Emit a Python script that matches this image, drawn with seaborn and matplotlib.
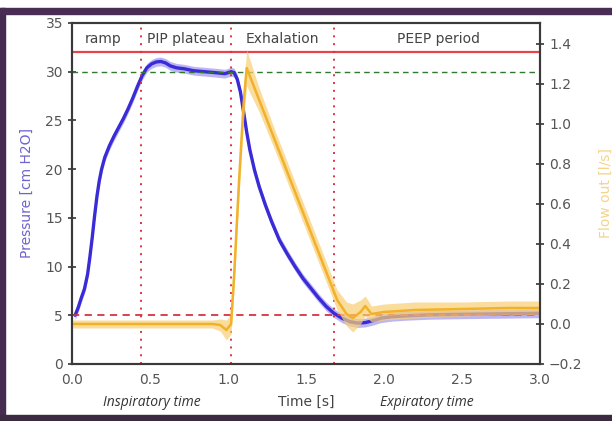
import numpy as np
import seaborn as sns
import matplotlib.pyplot as plt
from matplotlib.patches import Rectangle

# pressure trace [cm H2O]
t_pressure = [0.02, 0.04, 0.06, 0.08, 0.10, 0.115, 0.13, 0.145, 0.16, 0.175, 0.19, 0.21, 0.24, 0.27,
              0.30, 0.33, 0.36, 0.39, 0.42, 0.45, 0.48, 0.51, 0.54, 0.57, 0.60, 0.63, 0.67, 0.72,
              0.78, 0.85, 0.92, 0.98, 1.00, 1.02, 1.04, 1.06, 1.08, 1.10, 1.12, 1.14, 1.17, 1.20,
              1.24, 1.28, 1.33, 1.38, 1.43, 1.48, 1.53, 1.58, 1.63, 1.68, 1.73, 1.78, 1.83, 1.88,
              1.93, 1.98, 2.05, 2.15, 2.3, 2.5, 2.75, 3.0]
pressure = [5.0, 5.8, 6.8, 7.7, 9.2, 11.0, 13.0, 15.2, 17.2, 18.8, 20.0, 21.2, 22.4, 23.4,
            24.3, 25.2, 26.2, 27.3, 28.5, 29.6, 30.4, 30.8, 31.0, 31.05, 30.9, 30.6, 30.4, 30.3,
            30.1, 30.0, 29.9, 29.8, 29.9, 30.0, 29.9, 29.2, 27.9, 25.9, 23.8, 22.0, 19.9, 18.2,
            16.3, 14.6, 12.7, 11.3, 10.0, 8.8, 7.8, 6.8, 5.9, 5.2, 4.7, 4.35, 4.2, 4.25,
            4.45, 4.7, 4.85, 4.95, 5.05, 5.1, 5.15, 5.2]
pressure_spread = 0.45

# outflow trace [l/s]
t_flow = [0.0, 0.5, 0.9, 0.95, 0.99, 1.01, 1.02, 1.04, 1.07, 1.10, 1.12, 1.20, 1.30, 1.40, 1.50,
          1.60, 1.70, 1.76, 1.80, 1.85, 1.88, 1.92, 2.0, 2.2, 2.5, 2.8, 3.0]
flow = [0.0, 0.0, 0.0, -0.005, -0.03, -0.01, 0.0, 0.25, 0.7, 1.1, 1.28, 1.12, 0.92, 0.72, 0.52,
        0.32, 0.12, 0.05, 0.03, 0.06, 0.09, 0.05, 0.06, 0.07, 0.075, 0.08, 0.08]
flow_spread = [0.02, 0.02, 0.02, 0.03, 0.05, 0.05, 0.05, 0.06, 0.07, 0.08, 0.09, 0.06, 0.05, 0.05, 0.05,
               0.05, 0.05, 0.06, 0.07, 0.06, 0.05, 0.04, 0.04, 0.04, 0.035, 0.035, 0.035]

phase_bounds = [0.44, 1.02, 1.68]
phase_names = ['ramp', 'PIP plateau', 'Exhalation', 'PEEP period']
phase_centres = [0.20, 0.73, 1.35, 2.35]

PIP_LIMIT = 32
PIP_TARGET = 30
PEEP = 5

sns.set_style('white')
plt.rcParams['font.family'] = ['DejaVu Sans']

fig = plt.figure(figsize=(6.12, 4.21), dpi=100)
fig.patch.set_facecolor('white')
# slide border
fig.patches.append(Rectangle((0, 0), 0.008, 0.98, transform=fig.transFigure, color='#452b4f', zorder=0))
fig.patches.append(Rectangle((0, 0.966), 1, 0.015, transform=fig.transFigure, color='#4a2d55', zorder=0))
fig.patches.append(Rectangle((0, 0), 1, 0.014, transform=fig.transFigure, color='#3b2a40', zorder=0))

ax = fig.add_axes([0.1176, 0.1354, 0.7647, 0.81])
ax2 = ax.twinx()

# pressure
p = np.array(pressure)
ax.fill_between(t_pressure, p - pressure_spread, p + pressure_spread, color='#8f86ec', alpha=0.6, lw=0)
sns.lineplot(x=t_pressure, y=pressure, ax=ax, color='#3a2bd8', lw=2.4, solid_joinstyle='round')

# flow
f = np.array(flow)
s = np.array(flow_spread)
ax2.fill_between(t_flow, f - s, f + s, color='#f8cf73', alpha=0.7, lw=0)
sns.lineplot(x=t_flow, y=flow, ax=ax2, color='#f2b12a', lw=1.8)

# reference lines
ax.axhline(PIP_LIMIT, color='#e8434d', lw=1.6)
ax.axhline(PIP_TARGET, color='#2f7a2f', lw=1.0, ls=(0, (4, 3)))
ax.axhline(PEEP, color='#d8333f', lw=1.3, ls=(0, (4, 3)))
for b in phase_bounds:
    ax.axvline(b, color='#d8333f', lw=1.4, ls=(0, (1, 3)))
for name, c in zip(phase_names, phase_centres):
    ax.text(c, 33.4, name, ha='center', va='center', fontsize=10, color='#444444')

ax.set_xlim(0, 3.0)
ax.set_ylim(0, 35)
ax2.set_ylim(-0.2, 1.505)
ax.set_xticks(np.arange(0, 3.01, 0.5))
ax.set_yticks(range(0, 36, 5))
ax2.set_yticks(np.arange(-0.2, 1.41, 0.2))
ax2.set_yticklabels(['\u22120.2', '0.0', '0.2', '0.4', '0.6', '0.8', '1.0', '1.2', '1.4'])

for a in (ax, ax2):
    a.tick_params(direction='inout', length=6, width=1.2, colors='#333333', labelcolor='#555555',
                  labelsize=10)
    for sp in a.spines.values():
        sp.set_color('#3a3a3a')
        sp.set_linewidth(1.5)

ax.set_ylabel('Pressure [cm H2O]', color='#6f63cf', fontsize=10, labelpad=8)
ax2.set_ylabel('Flow out [l/s]', color='#f4d488', fontsize=10, labelpad=12)
ax.set_xlabel('Time [s]', color='#444444', fontsize=10, labelpad=6)

fig.text(152 / 612, 1 - 403 / 421, 'Inspiratory time', ha='center', va='center', fontsize=10,
         style='italic', color='#333333', family=['Open Sans', 'DejaVu Sans'])
fig.text(427 / 612, 1 - 403 / 421, 'Expiratory time', ha='center', va='center', fontsize=10,
         style='italic', color='#333333', family=['Open Sans', 'DejaVu Sans'])

fig.savefig('out.png', dpi=100)
